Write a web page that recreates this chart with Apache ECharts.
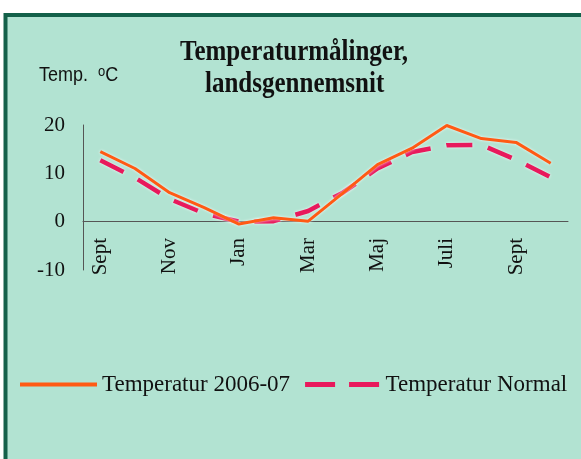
<!DOCTYPE html>
<html>
<head>
<meta charset="utf-8">
<script src="https://cdn.jsdelivr.net/npm/echarts@6/dist/echarts.min.js"></script>
<style>
html,body{margin:0;padding:0;background:#ffffff;}
#chart{width:581px;height:459px;}
</style>
</head>
<body>
<div id="chart"></div>
<script>
var months = ['Sept','Okt','Nov','Dec','Jan','Feb','Mar','Apr','Maj','Jun','Juli','Aug','Sept','Okt'];
var temp2006 = [14.5, 11.0, 6.0, 2.9, -0.5, 0.8, 0.1, 5.9, 11.8, 15.2, 19.9, 17.2, 16.4, 12.1];
var tempNormal = [12.7, 9.1, 4.7, 1.7, 0.0, 0.1, 2.2, 6.0, 11.0, 14.4, 15.8, 15.9, 12.8, 9.2];
var yTicks = [-10, 0, 10, 20];

var chart = echarts.init(document.getElementById('chart'));
var serif = '"Liberation Serif", "Times New Roman", serif';
var sans = '"Liberation Sans", Arial, sans-serif';
var halo = {shadowColor: 'rgba(255,255,255,0.85)', shadowBlur: 3};
chart.setOption({
  backgroundColor: '#ffffff',
  animation: false,
  graphic: [
    {type: 'rect', z: -10, shape: {x: 5.5, y: 15, width: 620, height: 500},
     style: {fill: '#b2e3d2', stroke: '#14614a', lineWidth: 4}},
    {type: 'text', x: 180, y: 38, scaleY: 1.15, z: 10,
     style: {text: 'Temperaturmålinger,', font: 'bold 25px ' + serif, fill: '#111', verticalAlign: 'top', align: 'left'}},
    {type: 'text', x: 205, y: 70, scaleY: 1.15, z: 10,
     style: {text: 'landsgennemsnit', font: 'bold 25px ' + serif, fill: '#111', verticalAlign: 'top', align: 'left'}},
    {type: 'text', x: 39, y: 64, scaleY: 1.15, z: 10,
     style: {text: 'Temp.  {s|o}C', font: '18px ' + sans, fill: '#111', verticalAlign: 'top', align: 'left',
       rich: {s: {fontSize: 13, fontFamily: sans, verticalAlign: 'top', padding: [0, 0, 6, 0]}}}}
  ],
  grid: {left: 83, right: 13, top: 125, bottom: 189, containLabel: false},
  legend: {
    left: 15, top: 368, itemWidth: 77, itemHeight: 5, itemGap: 15,
    textStyle: {fontFamily: serif, fontSize: 23, color: '#111'},
    data: [
      {name: 'Temperatur 2006-07', icon: 'path://M0,0h77v4h-77z'},
      {name: 'Temperatur Normal', icon: 'path://M0,0h30v5h-30zM44,0h30v5h-30z'}
    ]
  },
  xAxis: {
    type: 'category', data: months, boundaryGap: true,
    axisLine: {onZero: true, lineStyle: {color: '#555', width: 1}},
    axisTick: {show: false},
    axisLabel: {interval: 1, rotate: 90, margin: -32, fontFamily: serif, fontSize: 21, color: '#111'}
  },
  yAxis: {
    type: 'value', min: -10, max: 20, interval: 10,
    axisLine: {show: true, lineStyle: {color: '#555', width: 1}},
    axisTick: {show: false},
    splitLine: {show: false},
    axisLabel: {margin: 18, fontFamily: serif, fontSize: 21, color: '#111',
      formatter: function (v) { return yTicks.indexOf(v) >= 0 ? String(v) : ''; }}
  },
  series: [
    {name: 'Temperatur 2006-07', type: 'line', data: temp2006, symbol: 'none', z: 3,
     lineStyle: Object.assign({color: '#ff5a14', width: 3}, halo), itemStyle: {color: '#ff5a14'}},
    {name: 'Temperatur Normal', type: 'line', data: tempNormal, symbol: 'none', z: 2,
     lineStyle: Object.assign({color: '#e8195c', width: 4.5, type: [26, 16]}, halo), itemStyle: {color: '#e8195c'}}
  ]
});
</script>
</body>
</html>
